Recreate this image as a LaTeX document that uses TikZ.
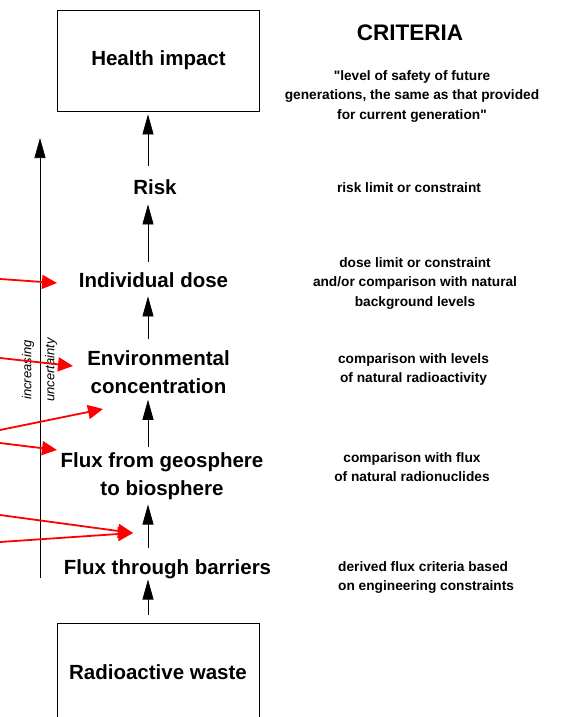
\documentclass[tikz,border=0pt]{standalone}
\usepackage{fontspec}
\setmainfont{Liberation Sans}
\usetikzlibrary{positioning,arrows.meta}

\begin{document}
\begin{tikzpicture}[x=1pt, y=-1pt,
    box/.style={draw, line width=0.8pt, minimum width=202pt, inner sep=0pt, font=\fontsize{20.5}{28}\selectfont\bfseries},
    stage/.style={inner sep=0pt, align=center, font=\fontsize{20.5}{28}\selectfont\bfseries},
    crit/.style={inner sep=0pt, align=center, font=\fontsize{13.7}{19.5}\selectfont\bfseries},
    flow/.style={-{Triangle[length=20pt,width=11pt]}, line width=0.7pt},
    hint/.style={-{Triangle[length=15pt,width=14pt]}, red, line width=1.8pt}]
    \useasboundingbox (0,0) rectangle (561,717);
    \clip (0,0) rectangle (561,717);

    % Boxes at both ends of the chain
    \node[box, minimum height=101pt] (health) at (158.5,60.5) {Health impact};
    \node[box, minimum height=98pt] (waste) at (158,672) {Radioactive waste};

    % Intermediate stages
    \node[stage, anchor=base] (risk) at (155,194) {Risk};
    \node[stage, anchor=base] (dose) at (153.5,287) {Individual dose};
    \node[stage, anchor=north] (envconc) at (158.5,350.3) {Environmental\\concentration};
    \node[stage, anchor=north] (fluxgeo) at (162,452) {Flux from geosphere\\to biosphere};
    \node[stage, anchor=base] (fluxbar) at (167.5,574) {Flux through barriers};

    % Vertical flow arrows
    \coordinate (col) at (148,0);
    \draw[flow, shorten <=8pt, shorten >=1pt] (waste.north -| col) -- (fluxbar.south -| col);
    \draw[flow, shorten <=11pt, shorten >=5pt] (fluxbar.north -| col) -- (fluxgeo.south -| col);
    \draw[flow, shorten <=5pt, shorten >=6pt] (fluxgeo.north -| col) -- (envconc.south -| col);
    \draw[flow, shorten <=11pt, shorten >=9pt] (envconc.north -| col) -- (dose.south -| col);
    \draw[flow, shorten <=10pt, shorten >=10pt] (dose.north -| col) -- (risk.south -| col);
    \draw[flow, shorten <=13pt, shorten >=3pt] (risk.north -| col) -- (health.south -| col);

    % Uncertainty axis
    \coordinate (uncbot) at (40,578);
    \coordinate (unctop) at (40,138);
    \draw[flow] (uncbot) -- (unctop);
    \node[rotate=90, inner sep=0pt, font=\fontsize{13}{15}\selectfont\itshape] (incr) at (28,370) {increasing};
    \node[rotate=90, inner sep=0pt, font=\fontsize{13}{15}\selectfont\itshape] (unc) at (51,370) {uncertainty};

    % Criteria column
    \node[anchor=base, inner sep=0pt, font=\fontsize{22.5}{26}\selectfont\bfseries] (crittitle) at (410,41) {CRITERIA};
    \node[crit, anchor=north] (critsafety) at (412,70.2) {\textquotedbl level of safety of future\\generations, the same as that provided\\for current generation\textquotedbl};
    \node[crit, anchor=base] (critrisk) at (409,192) {risk limit or constraint};
    \node[crit, anchor=north] (critdose) at (415,257.2) {dose limit or constraint\\and/or comparison with natural\\background levels};
    \node[crit, anchor=north] (critenv) at (413.5,353.2) {comparison with levels\\of natural radioactivity};
    \node[crit, anchor=north] (critgeo) at (412,452.2) {comparison with flux\\of natural radionuclides};
    \node[crit, anchor=north west, align=left] (critbar) at (338,561.2) {derived flux criteria based\\on engineering constraints};

    % Red pointers from the left
    \coordinate (r1a) at (0,279);   \coordinate (r1b) at (57,283);
    \coordinate (r2a) at (0,358);   \coordinate (r2b) at (73,366);
    \coordinate (r3a) at (0,430);   \coordinate (r3b) at (103,409);
    \coordinate (r4a) at (0,443);   \coordinate (r4b) at (57,450);
    \coordinate (r5a) at (0,515);   \coordinate (r6a) at (0,542);
    \coordinate (r56b) at (133,533);
    \draw[hint] (r1a) -- (r1b);
    \draw[hint] (r2a) -- (r2b);
    \draw[hint] (r3a) -- (r3b);
    \draw[hint] (r4a) -- (r4b);
    \draw[hint] (r5a) -- (r56b);
    \draw[hint] (r6a) -- (r56b);
\end{tikzpicture}
\end{document}
